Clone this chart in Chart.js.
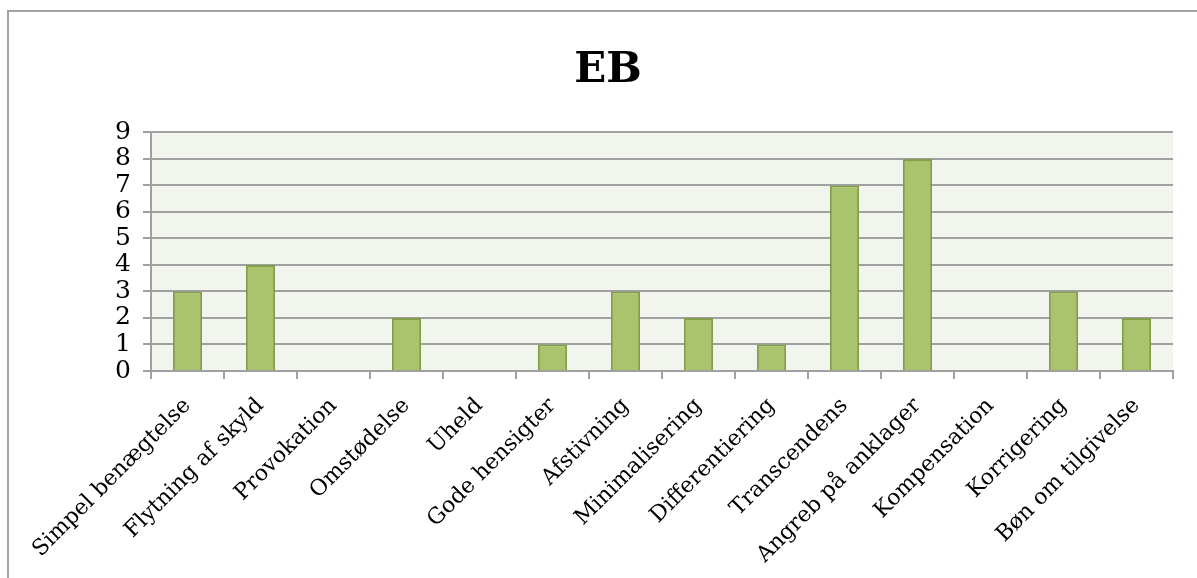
<!DOCTYPE html>
<html>
<head>
<meta charset="utf-8">
<script src="https://cdn.jsdelivr.net/npm/chart.js@4"></script>
<style>
  html, body { margin: 0; padding: 0; background: #fff; }
  #wrap { width: 1197px; height: 578px; }
</style>
</head>
<body>
<div id="wrap"><canvas id="myChart" width="1197" height="578"></canvas></div>
<script>
// data
const categories = ["Simpel benægtelse", "Flytning af skyld", "Provokation", "Omstødelse", "Uheld",
  "Gode hensigter", "Afstivning", "Minimalisering", "Differentiering", "Transcendens",
  "Angreb på anklager", "Kompensation", "Korrigering", "Bøn om tilgivelse"]
const values = [3, 4, 0, 2, 0, 1, 3, 2, 1, 7, 8, 0, 3, 2]
const yTicks = [0, 1, 2, 3, 4, 5, 6, 7, 8, 9]

const serif = "'DejaVu Serif', 'Liberation Serif', serif"

// plot background + outer frame
const decor = {
  id: 'decor',
  beforeDraw(chart) {
    const c = chart.ctx, a = chart.chartArea
    c.save()
    c.fillStyle = '#f2f4ee'
    c.fillRect(a.left, a.top, a.right - a.left, a.bottom - a.top)
    c.strokeStyle = '#a3a3a3'
    c.lineWidth = 2
    c.beginPath()
    c.moveTo(8, chart.height)
    c.lineTo(8, 11)
    c.lineTo(chart.width, 11)
    c.stroke()
    c.restore()
  }
}

const ctx = document.getElementById("myChart")

new Chart(ctx, {
  type: "bar",
  data: {
    labels: categories,
    datasets: [{
      label: "EB",
      data: values,
      backgroundColor: "#a9c46c",
      borderColor: "#849f4b",
      borderWidth: 2,
      barPercentage: 0.4,
      categoryPercentage: 1
    }]
  },
  options: {
    responsive: false,
    animation: false,
    layout: { padding: { left: 43, right: 24, top: 0, bottom: 0 } },
    plugins: {
      legend: { display: false },
      tooltip: { enabled: false },
      title: {
        display: true,
        text: "EB",
        color: "#000",
        font: { family: serif, size: 42, weight: "bold" },
        padding: { top: 46, bottom: 36 }
      }
    },
    scales: {
      x: {
        ticks: {
          autoSkip: false,
          minRotation: 45,
          maxRotation: 45,
          color: "#000",
          padding: 14,
          font: { family: serif, size: 22 }
        },
        grid: { drawOnChartArea: false, drawTicks: true, tickLength: 8, color: "#a0a0a0", lineWidth: 2 },
        border: { color: "#a0a0a0", width: 2 },
        afterFit(scale) { scale.height = 578 - 371 }
      },
      y: {
        min: 0,
        max: 9,
        afterBuildTicks(scale) { scale.ticks = yTicks.map(v => ({ value: v })) },
        ticks: {
          autoSkip: false,
          color: "#000",
          padding: 12,
          font: { family: serif, size: 25 }
        },
        grid: { color: "#a0a0a0", lineWidth: 2, tickLength: 8 },
        border: { color: "#a0a0a0", width: 2 },
        afterFit(scale) { scale.width = 151 - 43 }
      }
    }
  },
  plugins: [decor]
})
</script>
</body>
</html>
